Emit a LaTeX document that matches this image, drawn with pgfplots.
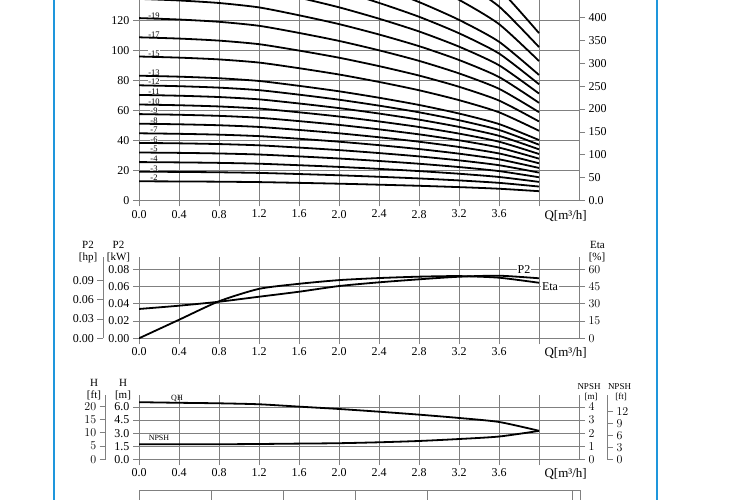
\documentclass[border=0pt]{standalone}
\usepackage{fontspec}
\setmainfont{Liberation Serif}
\usepackage{pgfplots}
\usepackage{pgfplotstable}
\pgfplotsset{compat=1.18}

% H [m] for each stage count (columns)
\pgfplotstableread{
Q    s2    s3    s4    s5    s6    s7    s8    s9    s10   s11   s12   s13   s15   s17    s19    s21    s23    s25    s27    s30    s33    s36
0.0 12.80 19.20 25.60 32.00 38.40 44.80 51.20 57.60 64.00 70.40 76.80 83.20 96.00 108.80 121.60 134.40 147.20 160.00 172.80 192.00 211.20 230.40
0.4 12.70 19.05 25.40 31.75 38.10 44.45 50.80 57.15 63.50 69.85 76.20 82.55 95.25 107.95 120.65 133.35 146.05 158.75 171.45 190.50 209.55 228.60
0.8 12.54 18.81 25.08 31.35 37.62 43.89 50.16 56.43 62.70 68.97 75.24 81.51 94.05 106.59 119.13 131.67 144.21 156.75 169.29 188.10 206.91 225.72
1.2 12.26 18.39 24.52 30.65 36.78 42.91 49.04 55.17 61.30 67.43 73.56 79.69 91.95 104.21 116.47 128.73 140.99 153.25 165.51 183.90 202.29 220.68
1.6 11.76 17.64 23.52 29.40 35.28 41.16 47.04 52.92 58.80 64.68 70.56 76.44 88.20 99.96 111.72 123.48 135.24 147.00 158.76 176.40 194.04 211.68
2.0 11.20 16.80 22.40 28.00 33.60 39.20 44.80 50.40 56.00 61.60 67.20 72.80 84.00 95.20 106.40 117.60 128.80 140.00 151.20 168.00 184.80 201.60
2.4 10.54 15.81 21.08 26.35 31.62 36.89 42.16 47.43 52.70 57.97 63.24 68.51 79.05 89.59 100.13 110.67 121.21 131.75 142.29 158.10 173.91 189.72
2.8 9.80 14.70 19.60 24.50 29.40 34.30 39.20 44.10 49.00 53.90 58.80 63.70 73.50 83.30 93.10 102.90 112.70 122.50 132.30 147.00 161.70 176.40
3.2 8.92 13.38 17.84 22.30 26.76 31.22 35.68 40.14 44.60 49.06 53.52 57.98 66.90 75.82 84.74 93.66 102.58 111.50 120.42 133.80 147.18 160.56
3.6 7.84 11.76 15.68 19.60 23.52 27.44 31.36 35.28 39.20 43.12 47.04 50.96 58.80 66.64 74.48 82.32 90.16 98.00 105.84 117.60 129.36 141.12
4.0 6.20 9.30 12.40 15.50 18.60 21.70 24.80 27.90 31.00 34.10 37.20 40.30 46.50 52.70 58.90 65.10 71.30 77.50 83.70 93.00 102.30 111.60
}\stages

% power / efficiency
\pgfplotstableread{
Q   P2     Eta
0.0 0.0340 0.0
0.4 0.0378 16.1
0.8 0.0424 32.2
1.2 0.0482 43.0
1.6 0.0540 47.4
2.0 0.0606 50.6
2.4 0.0649 52.4
2.8 0.0684 53.6
3.2 0.0714 54.1
3.6 0.0726 52.7
4.0 0.0696 48.3
}\power

% single stage head / NPSH
\pgfplotstableread{
Q   H    NPSH
0.0 6.55 1.15
0.4 6.48 1.15
0.8 6.42 1.15
1.2 6.31 1.17
1.6 6.04 1.20
2.0 5.77 1.23
2.4 5.46 1.30
2.8 5.12 1.40
3.2 4.74 1.55
3.6 4.28 1.74
4.0 3.27 2.17
}\single

\definecolor{gridc}{gray}{0.5}
\definecolor{framec}{RGB}{30,150,220}

\tikzset{
  stg/.style={font=\fontsize{8.5}{9}\selectfont, anchor=south, fill=white, inner sep=0.4pt},
}
\pgfplotsset{
  base/.style={scale only axis, width=440pt, xmin=0, xmax=4.4, anchor=south west,
    tick align=outside, major tick length=6pt,
    scaled y ticks=false, scaled x ticks=false,
    axis line style={gridc, line width=0.7pt},
    tick style={gridc, line width=0.7pt},
    grid style={gridc, line width=0.7pt},
    ticklabel style={font=\fontsize{12}{13}\selectfont, text=black},
  },
  qaxis/.style={base, axis x line*=bottom, axis y line*=left, grid=major,
    xtick={0,0.4,0.8,1.2,1.6,2.0,2.4,2.8,3.2,3.6},
    xticklabels={0.0,0.4,0.8,1.2,1.6,2.0,2.4,2.8,3.2,3.6},
    extra x ticks={4},
    extra x tick labels={Q[m³/h]},
    extra x tick style={grid=major, xticklabel style={anchor=north west, xshift=2pt,
      font=\fontsize{13}{14}\selectfont}},
  },
  raxis/.style={base, axis x line=none, axis y line*=right},
  laxis/.style={base, width=1pt, axis x line=none, axis y line*=left},
  curve/.style={black, line width=1.8pt, smooth, tension=0.4},
}

\begin{document}
\begin{tikzpicture}[x=1pt,y=1pt]
\useasboundingbox (0,0) rectangle (750,500);
\draw[framec, line width=1.2pt] (54,0) -- (54,500);
\draw[framec, line width=1.2pt] (657,0) -- (657,500);

% ---- top: H curves for all stage counts
\begin{axis}[qaxis, at={(139pt,299.5pt)}, height=200.5pt,
  ymin=0, ymax=133.67, ytick={0,20,40,60,80,100,120},
  yticklabels={0,20,40,60,80,100,120}]
\node[stg] at (axis cs:0.15,12.8) {-2};
\node[stg] at (axis cs:0.15,19.1) {-3};
\node[stg] at (axis cs:0.15,25.5) {-4};
\node[stg] at (axis cs:0.15,31.9) {-5};
\node[stg] at (axis cs:0.15,38.3) {-6};
\node[stg] at (axis cs:0.15,44.7) {-7};
\node[stg] at (axis cs:0.15,51.0) {-8};
\node[stg] at (axis cs:0.15,57.4) {-9};
\node[stg] at (axis cs:0.15,63.8) {-10};
\node[stg] at (axis cs:0.15,70.2) {-11};
\node[stg] at (axis cs:0.15,76.6) {-12};
\node[stg] at (axis cs:0.15,82.9) {-13};
\node[stg] at (axis cs:0.15,95.7) {-15};
\node[stg] at (axis cs:0.15,108.5) {-17};
\node[stg] at (axis cs:0.15,121.2) {-19};
\pgfplotsinvokeforeach{s2,s3,s4,s5,s6,s7,s8,s9,s10,s11,s12,s13,s15,s17,s19,s21,s23,s25,s27,s30,s33,s36}{
  \addplot[curve] table[x=Q, y=#1] {\stages};
}
\end{axis}
\begin{axis}[raxis, at={(139pt,299.5pt)}, height=200.5pt,
  ymin=0, ymax=438.55, ytick={0,50,100,150,200,250,300,350,400},
  yticklabels={0.0,50,100,150,200,250,300,350,400}]
\end{axis}

% ---- middle: P2 and Eta
\begin{axis}[qaxis, at={(139pt,161.7pt)}, height=80.8pt,
  ymin=0, ymax=0.0937, ytick={0,0.02,0.04,0.06,0.08},
  yticklabels={0.00,0.02,0.04,0.06,0.08}]
\node[fill=white, inner sep=1pt, font=\fontsize{12}{13}\selectfont] at (axis cs:3.85,0.08) {P2};
\node[fill=white, inner sep=1pt, font=\fontsize{12}{13}\selectfont] at (axis cs:4.11,0.06) {Eta};
\addplot[curve] table[x=Q, y=P2] {\power};
\end{axis}
\begin{axis}[raxis, at={(139pt,161.7pt)}, height=80.8pt,
  ymin=0, ymax=70.28, ytick={0,15,30,45,60}]
\addplot[curve] table[x=Q, y=Eta] {\power};
\end{axis}
\begin{axis}[laxis, at={(103.3pt,161.7pt)}, height=80.8pt,
  ymin=0, ymax=0.1256, ytick={0,0.03,0.06,0.09},
  yticklabels={0.00,0.03,0.06,0.09}]
\end{axis}

% ---- bottom: QH and NPSH
\begin{axis}[qaxis, at={(139pt,40.7pt)}, height=64.3pt,
  ymin=0, ymax=7.374, ytick={0,1.5,3,4.5,6},
  yticklabels={0.0,1.5,3.0,4.5,6.0}]
\node[font=\fontsize{8}{9}\selectfont, inner sep=0.5pt] at (axis cs:0.38,7.0) {QH};
\node[font=\fontsize{8}{9}\selectfont, inner sep=0.5pt] at (axis cs:0.2,2.4) {NPSH};
\addplot[curve] table[x=Q, y=H] {\single};
\end{axis}
\begin{axis}[raxis, at={(139pt,40.7pt)}, height=64.3pt,
  ymin=0, ymax=4.916, ytick={0,1,2,3,4}]
\addplot[curve] table[x=Q, y=NPSH] {\single};
\end{axis}
\begin{axis}[laxis, at={(105.7pt,40.7pt)}, height=64.3pt,
  ymin=0, ymax=24.19, ytick={0,5,10,15,20}]
\end{axis}
\begin{axis}[base, width=1pt, axis x line=none, axis y line*=right,
  at={(606pt,40.7pt)}, height=64.3pt,
  ymin=0, ymax=16.13, ytick={0,3,6,9,12}]
\end{axis}

% axis titles
\begin{scope}[font=\fontsize{11}{12}\selectfont, inner sep=0pt]
\node at (88,255) {P2};
\node at (88,242.5) {[hp]};
\node at (118.5,255) {P2};
\node at (118.5,242.5) {[kW]};
\node at (597.5,255) {Eta};
\node at (597,242.5) {[\%]};
\node at (94,117) {H};
\node at (94,104.5) {[ft]};
\node at (123,117) {H};
\node at (123,104.5) {[m]};
\end{scope}
\begin{scope}[font=\fontsize{9}{10}\selectfont, inner sep=0pt]
\node at (589,113.5) {NPSH};
\node at (591,103) {[m]};
\node at (619.5,113.5) {NPSH};
\node at (621,103) {[ft]};
\end{scope}

% start of the table below
\draw[gridc, line width=0.7pt] (139,0) -- (139,10) -- (580,10) -- (580,0);
\foreach \xx in {211,283,355,427,572}{\draw[gridc, line width=0.7pt] (\xx,0) -- (\xx,10);}
\end{tikzpicture}
\end{document}
